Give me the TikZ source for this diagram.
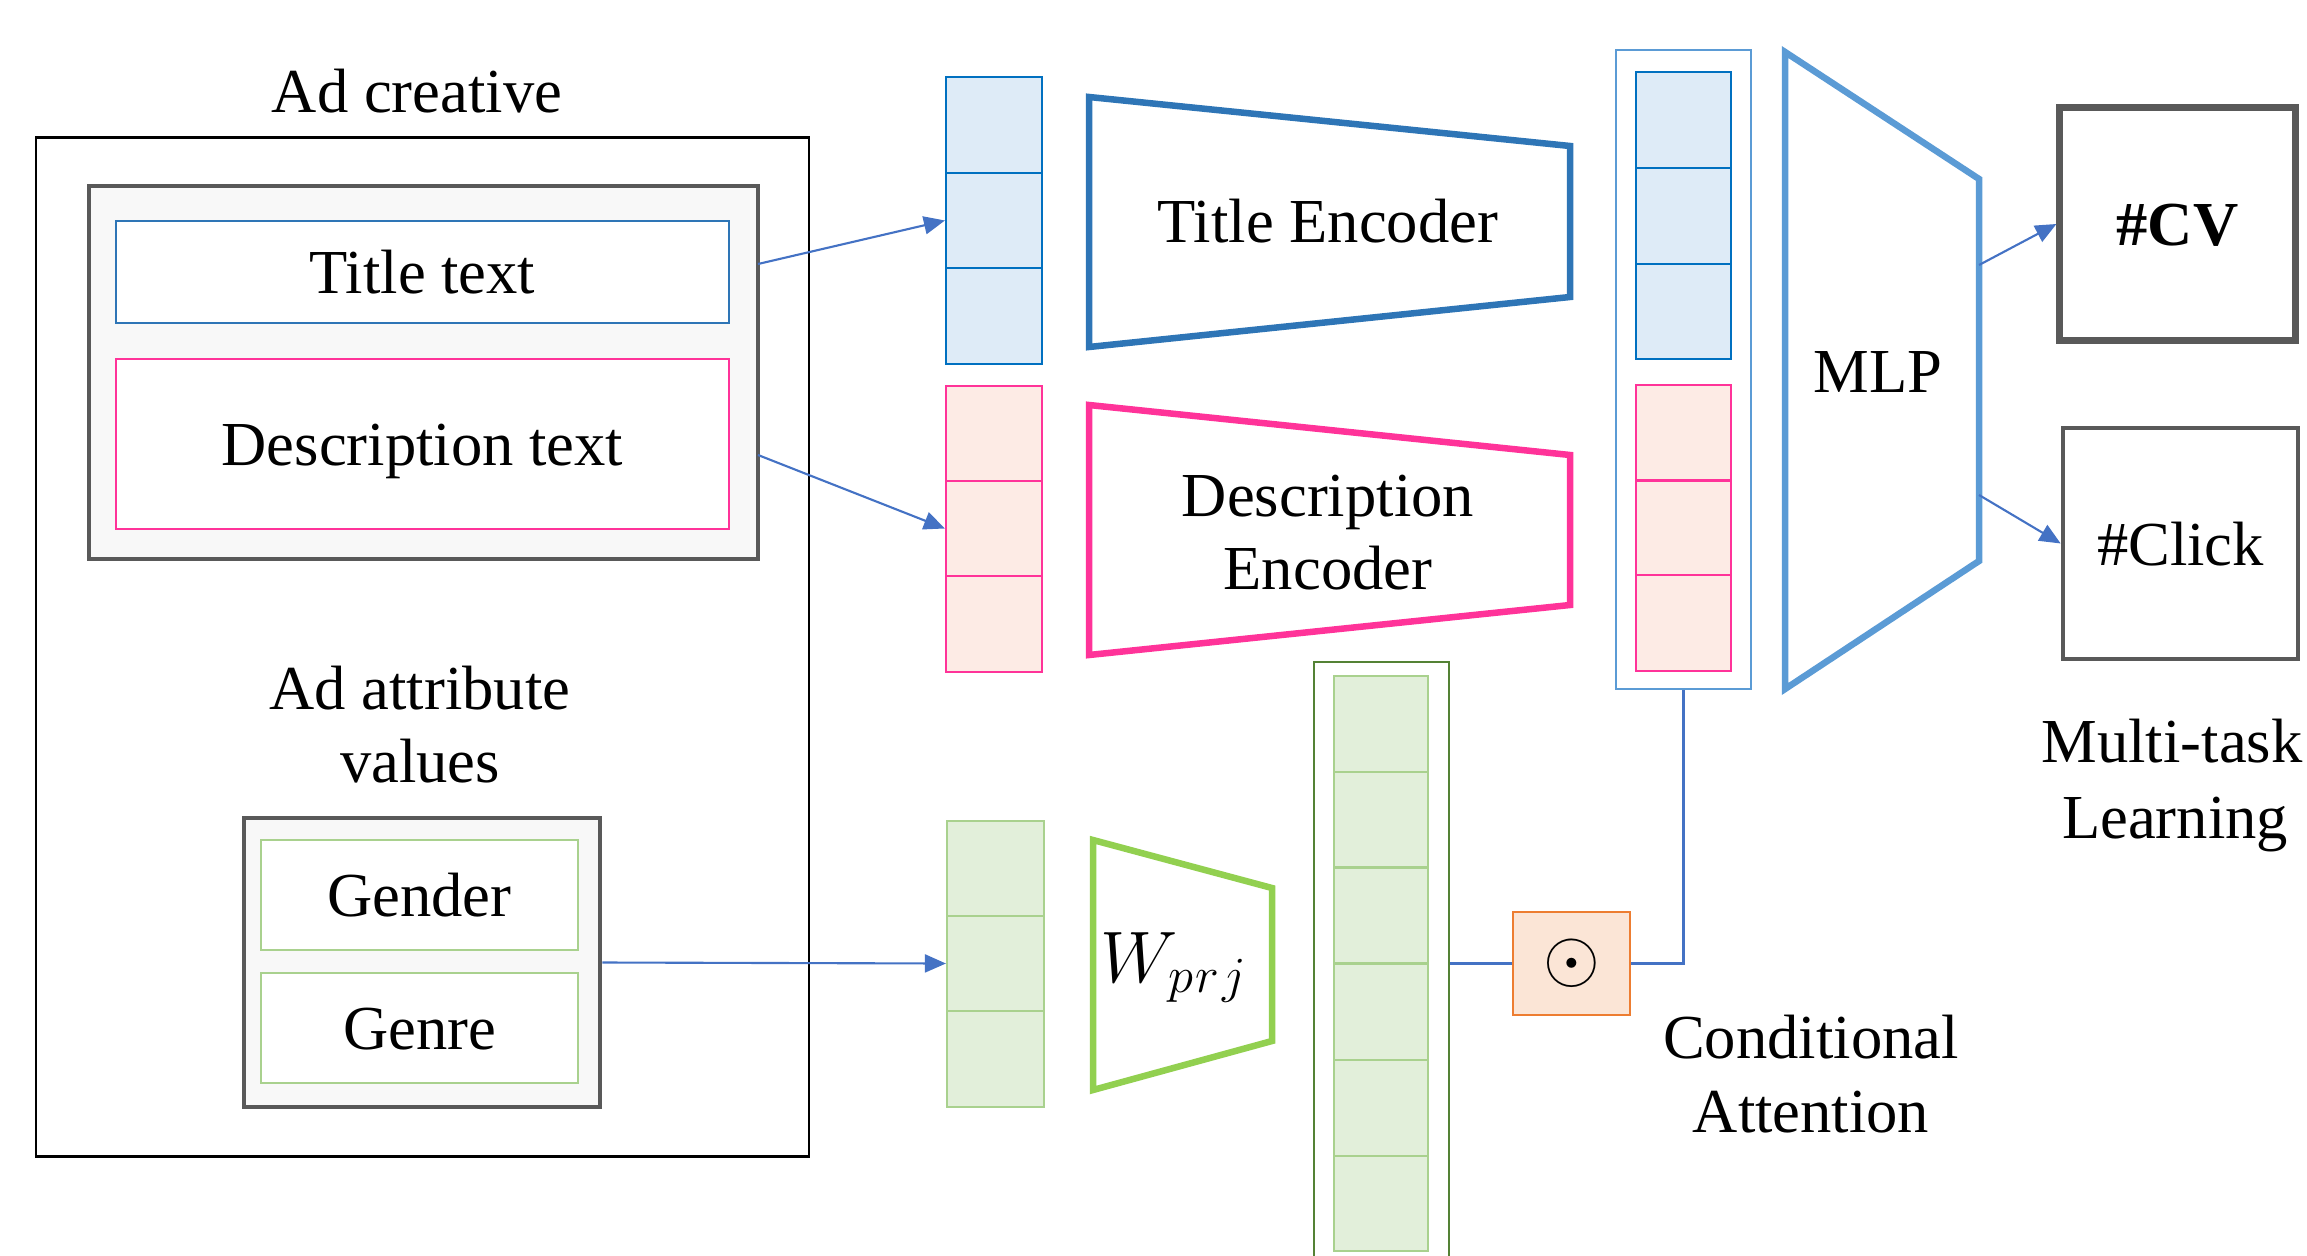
\documentclass[tikz,border=0pt]{standalone}
\usepackage{fontspec}
\setmainfont{Liberation Serif}
\usetikzlibrary{arrows.meta}
\definecolor{ctitle}{HTML}{2E75B6}
\definecolor{cpink}{HTML}{FF3399}
\definecolor{cpinkf}{HTML}{FDEBE5}
\definecolor{cblue}{HTML}{0070C0}
\definecolor{cbluef}{HTML}{DEEBF7}
\definecolor{cgreenl}{HTML}{A9D18E}
\definecolor{cgreenf}{HTML}{E2EFDA}
\definecolor{cgreend}{HTML}{548235}
\definecolor{cwprj}{HTML}{92D050}
\definecolor{cmlp}{HTML}{5B9BD5}
\definecolor{corange}{HTML}{ED7D31}
\definecolor{corangef}{HTML}{FBE5D6}
\definecolor{cgray}{HTML}{595959}
\definecolor{cgrayf}{HTML}{F8F8F8}
\definecolor{carrow}{HTML}{4472C4}
\begin{document}
\begin{tikzpicture}[x=0.01cm,y=-0.01cm,
  every node/.style={font=\fontsize{17.8}{21}\selectfont},
  lbl/.style={anchor=base, inner sep=0pt},
  tbox/.style={draw, fill=white, line width=0.7pt, inner sep=0pt, text height=12.5pt, text depth=0pt},
  graybox/.style={draw=cgray, fill=cgrayf, line width=1.3pt, inner sep=0pt},
  cell/.style={draw, line width=0.6pt, inner sep=0pt, minimum width=0.96cm, minimum height=0.955cm},
  trap/.style={line width=1.85pt, fill=white},
  arr/.style={draw=carrow, line width=0.6pt, -{Triangle[length=0.21cm,width=0.18cm]}},
  conn/.style={draw=carrow, line width=0.6pt}]
\useasboundingbox (0,0) rectangle (2307,1255);
\clip (0,0) rectangle (2307,1255);

% left panel
\node[draw=black, line width=0.7pt, inner sep=0pt, minimum width=7.73cm, minimum height=10.18cm] (adbox) at (422.5,647) {};
\node[lbl] (adcreative) at (417,113) {Ad creative};
\node[graybox, minimum width=6.69cm, minimum height=3.73cm] (creative) at (423.5,372.5) {};
\node[tbox, draw=ctitle, minimum width=6.13cm, minimum height=1.02cm] (title) at (422.5,272) {Title text};
\node[tbox, draw=cpink, minimum width=6.13cm, minimum height=1.70cm] (desc) at (422.5,444) {Description text};
\node[lbl] (attrA) at (420,709) {Ad attribute};
\node[lbl] (attrB) at (420,782) {values};
\node[graybox, minimum width=3.56cm, minimum height=2.89cm] (attr) at (422,962.5) {};
\node[tbox, draw=cgreenl, minimum width=3.17cm, minimum height=1.10cm] (gender) at (419.5,895) {Gender};
\node[tbox, draw=cgreenl, minimum width=3.17cm, minimum height=1.10cm] (genre) at (419.5,1028) {Genre};

% embedding columns
\foreach \y [count=\i] in {125,220.5,316}
  \node[cell, draw=cblue, fill=cbluef] (tc\i) at (994,\y) {};
\foreach \y [count=\i] in {433.5,528.5,624}
  \node[cell, draw=cpink, fill=cpinkf] (pc\i) at (994,\y) {};
\foreach \y [count=\i] in {868.5,963.5,1059}
  \node[cell, draw=cgreenl, fill=cgreenf, minimum width=0.97cm] (gc\i) at (995.5,\y) {};

% encoders
\draw[trap, draw=ctitle] (1089,97) -- (1570,146) -- (1570,297) -- (1089,347) -- cycle;
\node[lbl] (tenc) at (1328,243) {Title Encoder};
\draw[trap, draw=cpink] (1089,405) -- (1570,455) -- (1570,605) -- (1089,655) -- cycle;
\node[lbl] (denc1) at (1328,516) {Description};
\node[lbl] (denc2) at (1328,589) {Encoder};
\draw[trap, draw=cwprj] (1093,840) -- (1272,888) -- (1272,1041) -- (1093,1090) -- cycle;
\node[lbl, font=\fontsize{20.5}{24}\selectfont] (wprj) at (1174,982) {$W_{p\mkern1mu r\mkern1mu j}$};

% concatenated vector
\node[draw=cmlp, line width=0.5pt, inner sep=0pt, minimum width=1.35cm, minimum height=6.39cm] (concat) at (1683.5,369.5) {};
\foreach \y [count=\i] in {120,216,311.5}
  \node[cell, draw=cblue, fill=cbluef, minimum width=0.95cm] (cc\i) at (1683.5,\y) {};
\foreach \y [count=\i] in {432.5,528.5,623}
  \node[cell, draw=cpink, fill=cpinkf, minimum width=0.95cm] (cp\i) at (1683.5,\y) {};

% projected attribute vector
\node[draw=cgreend, line width=0.6pt, inner sep=0pt, minimum width=1.35cm, minimum height=6.08cm] (biggreen) at (1381.5,966) {};
\foreach \y [count=\i] in {724,819.5,915.5,1012,1108,1203.5}
  \node[cell, draw=cgreenl, fill=cgreenf, minimum width=0.94cm] (bg\i) at (1381,\y) {};

% MLP
\draw[trap, draw=cmlp] (1785,52) -- (1979,179) -- (1979,561) -- (1785,689) -- cycle;
\node[lbl] (mlp) at (1878,393) {MLP};
\coordinate (mlpA) at (1979,265);
\coordinate (mlpB) at (1979,495);

% outputs
\node[tbox, draw=cgray, line width=2pt, minimum width=2.35cm, minimum height=2.32cm, font=\fontsize{17.8}{21}\selectfont\bfseries] (cv) at (2177.5,224) {\#CV};
\node[tbox, draw=cgray, line width=1.3pt, minimum width=2.35cm, minimum height=2.31cm] (click) at (2180.5,543.5) {\#Click};
\node[lbl] (mtA) at (2172,762) {Multi-task};
\node[lbl] (mtB) at (2175,838) {Learning};

% conditional attention
\node[draw=corange, fill=corangef, line width=0.7pt, inner sep=0pt, minimum width=1.17cm, minimum height=1.03cm, font=\fontsize{21}{24}\selectfont] (odot) at (1571.5,963.5) {$\odot$};
\node[lbl] (caA) at (1811,1058) {Conditional};
\node[lbl] (caB) at (1811,1132.5) {Attention};

% connectors
\coordinate (tsrc) at (758,264);
\coordinate (dsrc) at (758,455);
\draw[arr] (tsrc) -- (tc2.west);
\draw[arr] (dsrc) -- (pc2.west);
\draw[arr] (attr.east) -- (gc2.west);
\draw[arr] (mlpA) -- (cv.west);
\draw[arr] (mlpB) -- (click.west);
\draw[conn] (odot.west -| biggreen.east) -- (odot.west);
\draw[conn] (odot.east) -| (concat.south);
\end{tikzpicture}
\end{document}
